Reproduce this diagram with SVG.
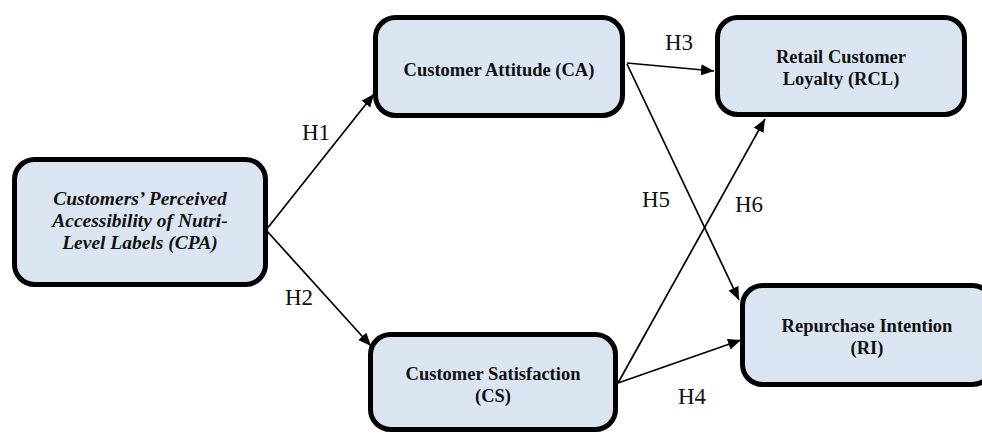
<svg xmlns="http://www.w3.org/2000/svg" width="982" height="434" viewBox="0 0 982 434">
<style>
.box{fill:#dbe5f1;stroke:#000;stroke-width:5}
.t{font-weight:bold;font-size:18.5px;text-anchor:middle;fill:#111}
.ti{font-style:italic;font-size:19.5px}
.h{font-size:23px;fill:#111}
.c{stroke:#000;stroke-width:1.7;fill:none;marker-end:url(#ah)}
</style>
<defs>
<marker id="ah" markerUnits="userSpaceOnUse" markerWidth="14" markerHeight="12" refX="13" refY="5.5" orient="auto">
<path d="M0,0 L13,5.5 L0,11 z" fill="#000"/>
</marker>
</defs>
<rect width="982" height="434" fill="#fff"/>
<g font-family="Liberation Serif, DejaVu Serif, serif">
<g id="connectors">
<line class="c" x1="266" y1="230" x2="374" y2="94"/>
<line class="c" x1="266" y1="230" x2="371" y2="346"/>
<line class="c" x1="627" y1="63" x2="714" y2="71"/>
<line class="c" x1="627" y1="64" x2="739" y2="300"/>
<line class="c" x1="618" y1="383" x2="765" y2="119"/>
<line class="c" x1="618" y1="383" x2="741" y2="340"/>
<text class="h" x="302" y="140">H1</text>
<text class="h" x="285" y="305">H2</text>
<text class="h" x="665" y="50">H3</text>
<text class="h" x="678" y="404">H4</text>
<text class="h" x="642" y="207">H5</text>
<text class="h" x="735" y="212">H6</text>
</g>
<g id="cpa">
<rect class="box" x="14.5" y="159.5" width="251" height="125" rx="20"/>
<text class="t ti" x="140" y="205">Customers’ Perceived</text>
<text class="t ti" x="140" y="227">Accessibility of Nutri-</text>
<text class="t ti" x="140" y="249">Level Labels (CPA)</text>
</g>
<g id="ca">
<rect class="box" x="375.5" y="17.5" width="247" height="98" rx="20"/>
<text class="t" x="499" y="76">Customer Attitude (CA)</text>
</g>
<g id="rcl">
<rect class="box" x="717.5" y="17.5" width="247" height="97" rx="20"/>
<text class="t" x="841" y="63">Retail Customer</text>
<text class="t" x="841" y="85">Loyalty (RCL)</text>
</g>
<g id="cs">
<rect class="box" x="370.5" y="334.5" width="245" height="95" rx="20"/>
<text class="t" x="493" y="380">Customer Satisfaction</text>
<text class="t" x="493" y="402">(CS)</text>
</g>
<g id="ri">
<rect class="box" x="742.5" y="285.5" width="250" height="99" rx="20"/>
<text class="t" x="867" y="332">Repurchase Intention</text>
<text class="t" x="867" y="354">(RI)</text>
</g>
</g>
</svg>
